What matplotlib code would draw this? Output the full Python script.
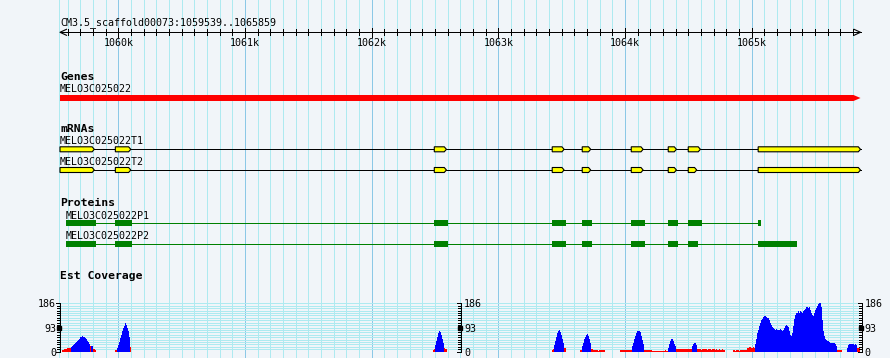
import matplotlib
matplotlib.use("Agg")
import matplotlib.pyplot as plt
from matplotlib.patches import Polygon, Rectangle

# region shown
ref_name = "CM3.5_scaffold00073"
view_start = 1059539
view_end = 1065859
ruler_step = 100
ruler_major = 1000

# Genes track
gene_name = "MELO3C025022"
gene_span = (1059539, 1065859)

# mRNAs track
mrna_names = ["MELO3C025022T1", "MELO3C025022T2"]
mrna_exons = [
    [(1059539, 1059810), (1059976, 1060098), (1062494, 1062590), (1063425, 1063519),
     (1063662, 1063729), (1064049, 1064143), (1064341, 1064406), (1064499, 1064595),
     (1065051, 1065859)],
    [(1059539, 1059810), (1059976, 1060098), (1062494, 1062590), (1063425, 1063519),
     (1063662, 1063729), (1064049, 1064143), (1064341, 1064406), (1064499, 1064566),
     (1065051, 1065859)],
]

# Proteins track
protein_names = ["MELO3C025022P1", "MELO3C025022P2"]
protein_cds = [
    [(1059586, 1059823), (1059973, 1060105), (1062491, 1062599), (1063423, 1063531),
     (1063660, 1063739), (1064046, 1064157), (1064339, 1064418), (1064497, 1064607),
     (1065048, 1065072)],
    [(1059586, 1059823), (1059973, 1060105), (1062491, 1062599), (1063423, 1063531),
     (1063660, 1063739), (1064046, 1064157), (1064339, 1064418), (1064497, 1064576),
     (1065048, 1065356)],
]

# Est Coverage track: runs of bins (start bp, class, values)
cov_max = 186
cov_bin = 7.895
cov_runs = [
    (1059555, "low", [5, 6, 9, 9, 10, 14, 15, 15, 15]),
    (1059626, "high", [18, 22, 25, 28, 32, 36, 40, 45, 50, 55, 58, 60, 56, 58, 52, 48, 42, 36, 28]),
    (1059776, "low", [22]),
    (1059784, "high", [20, 20]),
    (1059800, "low", [12, 12, 8]),
    (1059974, "low", [5, 8]),
    (1059989, "high", [15, 25, 38, 52, 66, 78, 90, 100, 111, 104, 92, 78, 55]),
    (1060092, "low", [17]),
    (1062486, "low", [6, 9]),
    (1062502, "high", [25, 40, 55, 70, 81, 76, 64, 50, 35]),
    (1062573, "low", [15, 12, 10]),
    (1063426, "low", [6, 10]),
    (1063442, "high", [25, 40, 55, 70, 80, 83, 76, 64, 50, 32]),
    (1063521, "low", [15, 13]),
    (1063647, "low", [5, 8]),
    (1063663, "high", [22, 35, 48, 58, 66, 68, 60, 48, 34]),
    (1063734, "low", [12, 10, 5, 5, 6, 5, 5, 4, 5, 5, 6, 5, 5, 5]),
    (1063963, "low", [6, 6, 5, 6, 6, 6, 5, 6, 6, 6, 5, 6]),
    (1064058, "high", [20, 35, 50, 62, 72, 78, 81, 81, 75, 62, 45, 30]),
    (1064153, "low", [6, 6, 5, 6, 6, 5, 6, 5, 4, 4, 3, 4, 4, 4, 3, 4, 4, 4, 3, 4, 4, 5, 4, 4]),
    (1064342, "high", [15, 30, 42, 49, 49, 40, 30, 20]),
    (1064405, "low", [10, 11, 12, 10, 9, 11, 12, 10, 9, 10, 11, 12, 10, 9, 10, 11]),
    (1064532, "high", [20, 30, 35, 33, 25]),
    (1064571, "low", [9, 10, 11, 9, 8, 10, 11, 9, 10, 9, 8, 10, 11, 9, 8, 9, 10, 9,
                      8, 9, 8, 8, 9, 8, 8, 9, 8, 8]),
    (1064824, "low", [0, 0, 0, 0, 5, 5, 4, 5, 5, 5, 4, 5, 5, 5, 5, 6, 5, 5,
                      14, 16, 18, 18, 16, 14, 18, 16, 14, 14, 13, 12]),
    (1065028, "high", [30, 50, 70, 85, 100, 110, 120, 126, 132, 136, 137, 134, 130, 128, 122,
                       112, 102, 95, 90, 88, 84, 86, 82, 84, 83, 86, 84, 80, 85, 92, 100,
                       104, 98, 94, 80, 66, 62, 70, 100, 125, 140, 148, 150, 156, 150, 158,
                       152, 148, 158, 160, 165, 172, 170, 168, 172, 160, 150, 140, 138, 150,
                       160, 168, 176, 182, 186, 186, 170, 120, 80, 60, 50, 44, 42, 40, 36,
                       34, 34, 32, 34, 32, 30, 20]),
    (1065677, "low", [6, 6, 6, 6, 6]),
    (1065756, "high", [15, 24, 28, 30, 29, 28, 28, 27, 28, 26]),
    (1065835, "low", [14, 14, 14]),
]

W, H = 890, 358
PX0, PX1 = 60, 860.5
BPP = (view_end - view_start) / (PX1 - PX0)
LW = 0.72  # one pixel at 100 dpi
BG = "#f1f5f9"
GRID = "#aeeaf0"
GRID_MAJOR = "#8cc8e6"
MONO = "DejaVu Sans Mono"
FS = 7.2
FS_B = 8.2
cov_colors = {"high": "#0000ff", "low": "#ff0000"}

fig = plt.figure(figsize=(W / 100, H / 100), dpi=100, facecolor=BG)
ax = fig.add_axes([0, 0, 1, 1])
ax.set_xlim(view_start - PX0 * BPP, view_start + (W - PX0) * BPP)
ax.set_ylim(H, 0)
ax.axis("off")

# vertical grid
ax.axvline(view_start - 0.7 * BPP, color=GRID, lw=LW, antialiased=False, zorder=0)
for p in range((view_start // ruler_step + 1) * ruler_step, view_end, ruler_step):
    ax.axvline(p, color=GRID_MAJOR if p % ruler_major == 0 else GRID, lw=LW,
               antialiased=False, zorder=0)

# ruler
ry = 32.3
ax.text(view_start, 25.5, f"{ref_name}:{view_start}..{view_end}", fontsize=FS,
        family=MONO, va="baseline", ha="left")
ax.plot([view_start, view_end], [ry, ry], color="black", lw=LW, antialiased=False)
ax.plot([view_start + 6.5 * BPP, view_start, view_start + 6.5 * BPP],
        [ry - 3, ry, ry + 3], color="black", lw=0.8)
ax.plot([view_end - 6.5 * BPP, view_end, view_end - 6.5 * BPP],
        [ry - 3, ry, ry + 3], color="black", lw=0.8)
for p in range((view_start // ruler_step + 1) * ruler_step, view_end, ruler_step):
    if p % ruler_major == 0:
        ax.plot([p, p], [ry - 4.5, ry + 5], color="black", lw=LW, antialiased=False)
        ax.text(p, 46, f"{p // 1000}k", fontsize=FS, family=MONO, ha="center", va="baseline")
    else:
        ax.plot([p, p], [ry - 3, ry + 3], color="black", lw=LW, antialiased=False)

# Genes
ax.text(view_start, 80, "Genes", fontsize=FS_B, family=MONO, weight="bold", va="baseline")
ax.text(view_start, 91.5, gene_name, fontsize=FS, family=MONO, va="baseline")
gs, ge = gene_span
gy, gh = 98, 3
ax.add_patch(Polygon([(gs, gy - gh), (ge - 7 * BPP, gy - gh), (ge, gy),
                      (ge - 7 * BPP, gy + gh), (gs, gy + gh)],
                     closed=True, facecolor="#ff0000", edgecolor="none", zorder=3))

# mRNAs
ax.text(view_start, 131.7, "mRNAs", fontsize=FS_B, family=MONO, weight="bold", va="baseline")
for name, exons, ty, tb in zip(mrna_names, mrna_exons, [149.3, 170], [144.3, 165]):
    ax.text(view_start, tb, name, fontsize=FS, family=MONO, va="baseline")
    ax.plot([exons[0][0], exons[-1][1]], [ty, ty], color="black", lw=LW,
            antialiased=False, zorder=2)
    for s, e in exons:
        tip = 2.2 * BPP
        ax.add_patch(Polygon([(s, ty - 2.5), (e - tip, ty - 2.5), (e, ty),
                              (e - tip, ty + 2.5), (s, ty + 2.5)], closed=True,
                             facecolor="#ffff00", edgecolor="black", lw=0.8, zorder=3))

# Proteins
ax.text(view_start, 206, "Proteins", fontsize=FS_B, family=MONO, weight="bold", va="baseline")
for name, cds, py, pb in zip(protein_names, protein_cds, [223.3, 244.3], [219, 239.3]):
    ax.text(cds[0][0], pb, name, fontsize=FS, family=MONO, va="baseline")
    ax.plot([cds[0][0], cds[-1][0]], [py, py], color="#008000", lw=LW,
            antialiased=False, zorder=2)
    for s, e in cds:
        ax.add_patch(Rectangle((s, py - 3), e - s, 6, facecolor="#008000",
                               edgecolor="none", zorder=3))

# Est Coverage
ax.text(view_start, 279.3, "Est Coverage", fontsize=FS_B, family=MONO, weight="bold",
        va="baseline")
cy0, cy1 = 351.7, 303.3
cax = fig.add_axes([PX0 / W, (H - cy0) / H, (PX1 - PX0) / W, (cy0 - cy1) / H])
cax.set_xlim(view_start, view_end)
cax.set_ylim(0, cov_max)
cax.axis("off")
cax.patch.set_alpha(0)

steps = 20
for k in range(steps + 1):
    cax.axhline(cov_max * k / steps, color=GRID_MAJOR if k == 0 else GRID, lw=LW,
                antialiased=False, zorder=0)

for start, cls, vals in cov_runs:
    xs = [start + i * cov_bin for i in range(len(vals))]
    cax.bar(xs, vals, width=cov_bin, align="edge", color=cov_colors[cls],
            linewidth=0, antialiased=False, zorder=2)

# scales
for px, side in [(PX0, "left"), (461, "right"), (861.5, "right")]:
    xa = view_start + (px - PX0) * BPP
    cax.plot([xa, xa], [0, cov_max], color="black", lw=LW, antialiased=False,
             clip_on=False, zorder=4)
    for k in range(steps + 1):
        v = cov_max * k / steps
        ln = 3.5 if k in (0, steps) else 2.5
        cax.plot([xa - ln * BPP, xa], [v, v], color="black", lw=LW, antialiased=False,
                 clip_on=False, zorder=4)
    cax.plot([xa - 1 * BPP], [cov_max / 2], marker="s", ms=2.6, color="black",
             clip_on=False, zorder=5)
    for v in (cov_max, cov_max // 2, 0):
        if side == "left":
            cax.text(xa - 4 * BPP, v, str(v), fontsize=FS, family=MONO, ha="right",
                     va="center_baseline", clip_on=False)
        else:
            cax.text(xa + 3 * BPP, v, str(v), fontsize=FS, family=MONO, ha="left",
                     va="center_baseline", clip_on=False)

fig.savefig("out.png", dpi=100, facecolor=BG)
